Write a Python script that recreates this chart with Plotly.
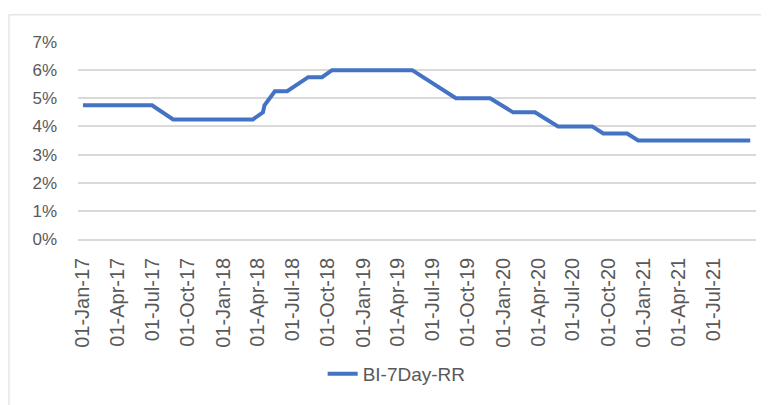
import plotly.graph_objects as go

# Data (BI 7-Day Reverse Repo rate, %)
dates = [
    "2017-01-01", "2017-06-30", "2017-08-24", "2018-03-20", "2018-04-15",
    "2018-04-19", "2018-05-16", "2018-06-17", "2018-08-11", "2018-09-16",
    "2018-10-12", "2019-05-09", "2019-08-31", "2019-11-28", "2020-01-27",
    "2020-03-24", "2020-05-23", "2020-08-20", "2020-09-18", "2020-11-19",
    "2020-12-18", "2021-10-06",
]
rates = [
    4.75, 4.75, 4.25, 4.25, 4.50,
    4.75, 5.25, 5.25, 5.75, 5.75,
    6.00, 6.00, 5.00, 5.00, 4.50,
    4.50, 4.00, 4.00, 3.75, 3.75,
    3.50, 3.50,
]
series_name = "BI-7Day-RR"
y_ticks = [0, 1, 2, 3, 4, 5, 6, 7]
y_tick_labels = ["0%", "1%", "2%", "3%", "4%", "5%", "6%", "7%"]
x_ticks = [
    "2017-01-01", "2017-04-01", "2017-07-01", "2017-10-01",
    "2018-01-01", "2018-04-01", "2018-07-01", "2018-10-01",
    "2019-01-01", "2019-04-01", "2019-07-01", "2019-10-01",
    "2020-01-01", "2020-04-01", "2020-07-01", "2020-10-01",
    "2021-01-01", "2021-04-01", "2021-07-01",
]
x_tick_labels = [
    "01-Jan-17", "01-Apr-17", "01-Jul-17", "01-Oct-17",
    "01-Jan-18", "01-Apr-18", "01-Jul-18", "01-Oct-18",
    "01-Jan-19", "01-Apr-19", "01-Jul-19", "01-Oct-19",
    "01-Jan-20", "01-Apr-20", "01-Jul-20", "01-Oct-20",
    "01-Jan-21", "01-Apr-21", "01-Jul-21",
]

TEXT = "#595959"
GRID = "#d9d9d9"
FONT = "Liberation Sans"

fig = go.Figure()
fig.add_trace(go.Scatter(
    x=dates, y=rates, mode="lines", name=series_name,
    line=dict(color="#4472C4", width=4),
))

fig.update_layout(
    width=761, height=397,
    margin=dict(l=70, r=13, t=34, b=160),
    paper_bgcolor="white", plot_bgcolor="white",
    font=dict(family=FONT, color=TEXT, size=17),
    showlegend=True,
    legend=dict(orientation="h", x=0.47, xanchor="center", y=-0.685, yanchor="middle",
                font=dict(size=19, color=TEXT, family=FONT)),
    shapes=[dict(type="rect", xref="paper", yref="paper",
                 x0=-0.1018, x1=1.2, y0=-1.2, y1=1.138,
                 line=dict(color=GRID, width=1), fillcolor="rgba(0,0,0,0)", layer="below")],
)
fig.update_xaxes(
    type="date", range=["2016-12-19", "2021-10-21"], automargin=False,
    tickvals=x_ticks, ticktext=x_tick_labels, tickangle=-90,
    showgrid=False, showline=True, linecolor=GRID, linewidth=1.5,
    ticks="", ticklabelstandoff=9, tickfont=dict(size=20, color=TEXT, family=FONT),
)
fig.update_yaxes(
    range=[0, 7], tickvals=y_ticks, ticktext=y_tick_labels, automargin=False,
    showgrid=True, gridcolor=GRID, gridwidth=1.5, zeroline=False,
    showline=False, ticks="", ticklabelstandoff=20,
    tickfont=dict(size=17, color=TEXT, family=FONT),
)

fig.write_html("out.html")
